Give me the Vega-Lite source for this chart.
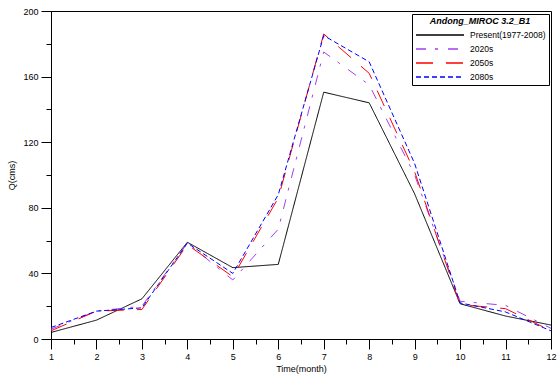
{
  "$schema": "https://vega.github.io/schema/vega-lite/v6.json",
  "width": 500,
  "height": 328,
  "autosize": {"type": "none"},
  "padding": {"left": 51, "top": 11, "right": 6, "bottom": 39},
  "background": "white",
  "config": {
    "view": {"stroke": "black", "strokeWidth": 1},
    "font": "Liberation Sans",
    "axis": {"labelFont": "Liberation Sans", "titleFont": "Liberation Sans", "labelFontSize": 9, "titleFontSize": 9, "titleFontWeight": "normal", "domainColor": "black", "tickColor": "black", "labelColor": "black", "titleColor": "black", "grid": false}
  },
  "data": {"values": [
    {"month": 1, "series": "Present(1977-2008)", "Q": 4},
    {"month": 2, "series": "Present(1977-2008)", "Q": 11.5},
    {"month": 3, "series": "Present(1977-2008)", "Q": 24.5},
    {"month": 4, "series": "Present(1977-2008)", "Q": 59},
    {"month": 5, "series": "Present(1977-2008)", "Q": 43.5},
    {"month": 6, "series": "Present(1977-2008)", "Q": 45.5},
    {"month": 7, "series": "Present(1977-2008)", "Q": 150.5},
    {"month": 8, "series": "Present(1977-2008)", "Q": 144},
    {"month": 9, "series": "Present(1977-2008)", "Q": 88.5},
    {"month": 10, "series": "Present(1977-2008)", "Q": 21.5},
    {"month": 11, "series": "Present(1977-2008)", "Q": 14},
    {"month": 12, "series": "Present(1977-2008)", "Q": 8.5},
    {"month": 1, "series": "2020s", "Q": 6},
    {"month": 2, "series": "2020s", "Q": 17},
    {"month": 3, "series": "2020s", "Q": 20},
    {"month": 4, "series": "2020s", "Q": 58.5},
    {"month": 5, "series": "2020s", "Q": 36},
    {"month": 6, "series": "2020s", "Q": 67},
    {"month": 7, "series": "2020s", "Q": 175},
    {"month": 8, "series": "2020s", "Q": 155},
    {"month": 9, "series": "2020s", "Q": 100},
    {"month": 10, "series": "2020s", "Q": 23},
    {"month": 11, "series": "2020s", "Q": 20.5},
    {"month": 12, "series": "2020s", "Q": 6.5},
    {"month": 1, "series": "2050s", "Q": 5},
    {"month": 2, "series": "2050s", "Q": 17},
    {"month": 3, "series": "2050s", "Q": 18},
    {"month": 4, "series": "2050s", "Q": 57.5},
    {"month": 5, "series": "2050s", "Q": 38},
    {"month": 6, "series": "2050s", "Q": 86},
    {"month": 7, "series": "2050s", "Q": 186},
    {"month": 8, "series": "2050s", "Q": 162},
    {"month": 9, "series": "2050s", "Q": 102},
    {"month": 10, "series": "2050s", "Q": 21},
    {"month": 11, "series": "2050s", "Q": 18.5},
    {"month": 12, "series": "2050s", "Q": 5},
    {"month": 1, "series": "2080s", "Q": 7},
    {"month": 2, "series": "2080s", "Q": 17},
    {"month": 3, "series": "2080s", "Q": 19},
    {"month": 4, "series": "2080s", "Q": 58.5},
    {"month": 5, "series": "2080s", "Q": 40},
    {"month": 6, "series": "2080s", "Q": 88},
    {"month": 7, "series": "2080s", "Q": 185},
    {"month": 8, "series": "2080s", "Q": 169},
    {"month": 9, "series": "2080s", "Q": 107},
    {"month": 10, "series": "2080s", "Q": 22},
    {"month": 11, "series": "2080s", "Q": 16.5},
    {"month": 12, "series": "2080s", "Q": 5}
  ]},
  "mark": {"type": "line", "strokeWidth": 1, "clip": true},
  "encoding": {
    "x": {
      "field": "month", "type": "quantitative",
      "scale": {"domain": [1, 12], "nice": false, "zero": false},
      "axis": {
        "title": "Time(month)", "titlePadding": 3,
        "values": [1,1.5,2,2.5,3,3.5,4,4.5,5,5.5,6,6.5,7,7.5,8,8.5,9,9.5,10,10.5,11,11.5,12],
        "labelExpr": "datum.value % 1 === 0 ? format(datum.value, 'd') : ''",
        "tickSize": {"condition": {"test": "datum.value % 1 === 0", "value": 10}, "value": 5},
        "labelPadding": 3, "labelFlush": false, "labelOverlap": false
      }
    },
    "y": {
      "field": "Q", "type": "quantitative",
      "scale": {"domain": [0, 200], "nice": false},
      "axis": {
        "title": "Q(cms)", "titlePadding": 6,
        "values": [0,20,40,60,80,100,120,140,160,180,200],
        "labelExpr": "datum.value % 40 === 0 ? datum.label : ''",
        "tickSize": {"condition": {"test": "datum.value % 40 === 0", "value": 10}, "value": 5},
        "labelPadding": 3
      }
    },
    "color": {
      "field": "series", "type": "nominal",
      "scale": {"domain": ["Present(1977-2008)", "2020s", "2050s", "2080s"], "range": ["#000000", "#a040f0", "#ff0000", "#0000ff"]},
      "legend": {
        "title": "Andong_MIROC 3.2_B1",
        "titleFontStyle": "italic", "titleFontWeight": "bold", "titleFontSize": 9,
        "titleAnchor": "middle", "titleFont": "Liberation Sans", "titlePadding": 3,
        "labelFont": "Liberation Sans", "labelFontSize": 8.5, "labelColor": "black",
        "symbolType": "M-1,0H8.6", "symbolSize": 100, "symbolStrokeWidth": 1.5,
        "orient": "none", "legendX": 361, "legendY": 3,
        "strokeColor": "black", "fillColor": "white", "padding": 3,
        "rowPadding": 3, "labelOffset": 43
      }
    },
    "strokeDash": {
      "field": "series", "type": "nominal",
      "scale": {"domain": ["Present(1977-2008)", "2020s", "2050s", "2080s"], "range": [[1, 0], [10, 9, 3, 10], [17, 13], [5, 3]]},
      "legend": null
    }
  }
}
